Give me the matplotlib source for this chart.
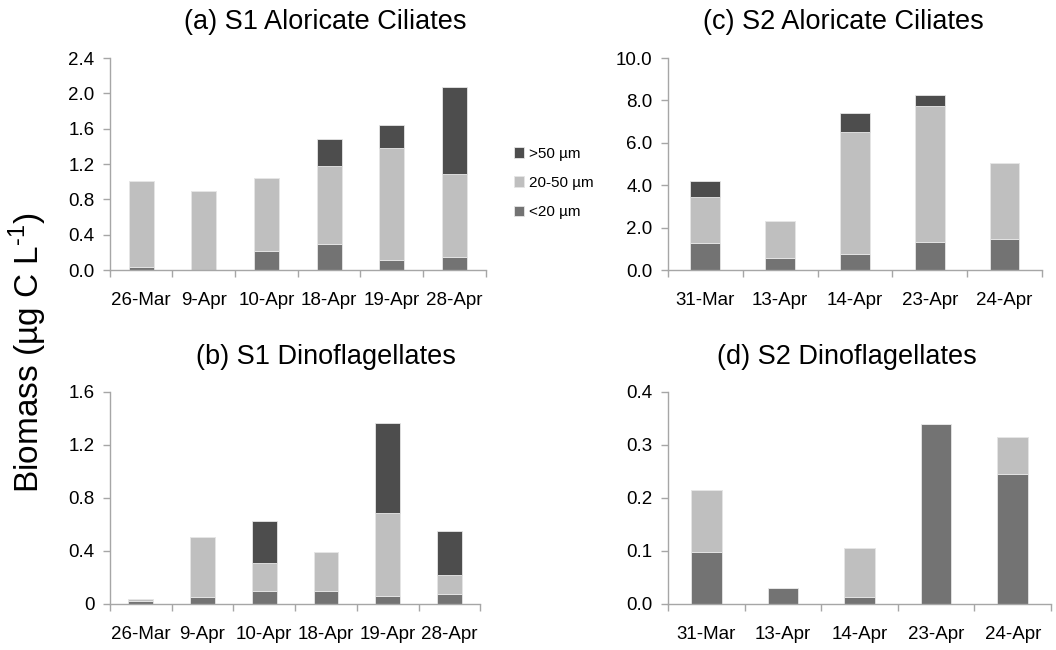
import numpy as np
import matplotlib
matplotlib.use('Agg')
from matplotlib import pyplot as plt
from matplotlib.patches import Patch

plt.rcParams['font.family'] = ['Liberation Sans', 'DejaVu Sans']
plt.rcParams['mathtext.fontset'] = 'custom'
plt.rcParams['mathtext.rm'] = 'Liberation Sans'

# size classes, bottom to top of each stack
size_labels = ['<20 µm', '20-50 µm', '>50 µm']
size_colors = ['#737373', '#bfbfbf', '#4d4d4d']

# (a) S1 aloricate ciliates
s1_dates = ['26-Mar', '9-Apr', '10-Apr', '18-Apr', '19-Apr', '28-Apr']
s1_cil_small = [0.03, 0.0, 0.21, 0.30, 0.11, 0.15]
s1_cil_mid = [0.98, 0.89, 0.83, 0.88, 1.27, 0.94]
s1_cil_large = [0.0, 0.0, 0.0, 0.30, 0.26, 0.98]

# (b) S1 dinoflagellates
s1_din_small = [0.02, 0.055, 0.10, 0.10, 0.063, 0.073]
s1_din_mid = [0.015, 0.45, 0.21, 0.294, 0.62, 0.148]
s1_din_large = [0.0, 0.0, 0.316, 0.0, 0.683, 0.329]

# (c) S2 aloricate ciliates
s2_dates = ['31-Mar', '13-Apr', '14-Apr', '23-Apr', '24-Apr']
s2_cil_small = [1.27, 0.58, 0.75, 1.32, 1.46]
s2_cil_mid = [2.16, 1.72, 5.77, 6.40, 3.57]
s2_cil_large = [0.77, 0.0, 0.89, 0.55, 0.0]

# (d) S2 dinoflagellates
s2_din_small = [0.097, 0.030, 0.013, 0.339, 0.245]
s2_din_mid = [0.117, 0.0, 0.093, 0.0, 0.069]
s2_din_large = [0.0, 0.0, 0.0, 0.0, 0.0]

axis_grey = '#a6a6a6'


def stacked(ax, dates, layers, ymax, ystep, ylabels):
    x = np.arange(len(dates))
    bottom = np.zeros(len(dates))
    for vals, col in zip(layers, size_colors):
        vals = np.array(vals)
        ax.bar(x, vals, 0.4, bottom=bottom, color=col,
               edgecolor='#e6e6e6', linewidth=0.6)
        bottom += vals
    ax.set_xlim(-0.5, len(dates) - 0.5)
    ax.set_ylim(0, ymax)
    yt = np.arange(0, ymax + ystep / 2, ystep)
    ax.set_yticks(yt)
    ax.set_yticklabels(ylabels)
    ax.set_xticks(x)
    ax.set_xticklabels(dates)
    # category boundaries carry the tick marks
    ax.set_xticks(np.arange(-0.5, len(dates)), minor=True)
    ax.tick_params(axis='x', which='major', length=0, pad=16, labelsize=13.5)
    ax.tick_params(axis='x', which='minor', length=5, color=axis_grey, width=1)
    ax.tick_params(axis='y', length=5, color=axis_grey, width=1, pad=6,
                   labelsize=13.5)
    for side in ['top', 'right']:
        ax.spines[side].set_visible(False)
    for side in ['left', 'bottom']:
        ax.spines[side].set_color(axis_grey)
        ax.spines[side].set_linewidth(1)


fig = plt.figure(figsize=(10.56, 6.5), dpi=100)

ax_a = fig.add_axes([0.104, 0.5846, 0.356, 0.326])
ax_b = fig.add_axes([0.104, 0.0708, 0.351, 0.3266])
ax_c = fig.add_axes([0.6326, 0.5846, 0.354, 0.326])
ax_d = fig.add_axes([0.6326, 0.0708, 0.3627, 0.3266])

stacked(ax_a, s1_dates, [s1_cil_small, s1_cil_mid, s1_cil_large], 2.4, 0.4,
        ['0.0', '0.4', '0.8', '1.2', '1.6', '2.0', '2.4'])
stacked(ax_b, s1_dates, [s1_din_small, s1_din_mid, s1_din_large], 1.6, 0.4,
        ['0', '0.4', '0.8', '1.2', '1.6'])
stacked(ax_c, s2_dates, [s2_cil_small, s2_cil_mid, s2_cil_large], 10.0, 2.0,
        ['0.0', '2.0', '4.0', '6.0', '8.0', '10.0'])
stacked(ax_d, s2_dates, [s2_din_small, s2_din_mid, s2_din_large], 0.4, 0.1,
        ['0.0', '0.1', '0.2', '0.3', '0.4'])

fig.text(325 / 1056, 1 - 22 / 650, '(a) S1 Aloricate Ciliates', ha='center', va='center', fontsize=19.5)
fig.text(326 / 1056, 1 - 357 / 650, '(b) S1 Dinoflagellates', ha='center', va='center', fontsize=19.5)
fig.text(843 / 1056, 1 - 22 / 650, '(c) S2 Aloricate Ciliates', ha='center', va='center', fontsize=19.5)
fig.text(847 / 1056, 1 - 357 / 650, '(d) S2 Dinoflagellates', ha='center', va='center', fontsize=19.5)

fig.text(28 / 1056, 1 - 353 / 650, r'Biomass (µg C L$^{\text{-1}}$)', rotation=90,
         ha='center', va='center', fontsize=24)

handles = [Patch(facecolor=c, edgecolor='#e6e6e6', linewidth=0.6)
           for c in size_colors[::-1]]
fig.legend(handles, size_labels[::-1], loc='center left',
           bbox_to_anchor=(500 / 1056, 1 - 183 / 650), frameon=False,
           fontsize=11, handlelength=0.7, handleheight=0.7,
           handletextpad=0.3, labelspacing=1.0)

fig.savefig('out.png', dpi=100)
